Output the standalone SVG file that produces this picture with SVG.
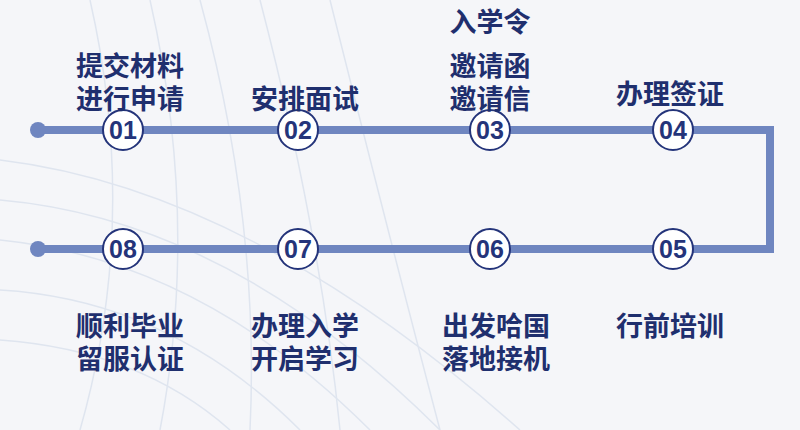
<svg xmlns="http://www.w3.org/2000/svg" width="800" height="430" viewBox="0 0 800 430">
<style>
.t{font-family:"Noto Sans CJK SC","Noto Sans",sans-serif;font-size:27px;font-weight:bold;fill:#1f2f6e;text-anchor:middle}
.n{font-family:"Liberation Sans","Noto Sans",sans-serif;font-size:25px;font-weight:bold;fill:#24347a;text-anchor:middle}
.c{fill:#fff;stroke:#24347a;stroke-width:2}
.g{fill:none;stroke:#dfe5ef;stroke-width:1.5}
</style>
<rect width="800" height="430" fill="#f5f6f9"/>
<g id="bg">
<path class="g" d="M0 160 Q250 190 520 430"/>
<path class="g" d="M0 200 Q230 220 440 430"/>
<path class="g" d="M0 240 Q200 260 370 430"/>
<path class="g" d="M0 290 Q170 300 300 430"/>
<path class="g" d="M0 340 Q140 350 230 430"/>
<path class="g" d="M150 0 Q200 220 160 430"/>
<path class="g" d="M200 0 Q260 220 250 430"/>
<path class="g" d="M260 0 Q320 230 340 430"/>
<path class="g" d="M330 0 Q390 240 440 430"/>
<path class="g" d="M90 0 Q140 220 80 430"/>
</g>
<g id="connectors" fill="none" stroke="#6f86c0" stroke-width="8">
<path d="M38 130 H770 V249 H38"/>
<circle cx="38" cy="130" r="8" fill="#6f86c0" stroke="none"/>
<circle cx="38" cy="249" r="8" fill="#6f86c0" stroke="none"/>
</g>
<g id="n01"><circle class="c" cx="123" cy="130" r="20"/><text class="n" x="123" y="139">01</text><text class="t" x="130" y="76">提交材料<tspan x="130" dy="33">进行申请</tspan></text></g>
<g id="n02"><circle class="c" cx="298" cy="130" r="20"/><text class="n" x="298" y="139">02</text><text class="t" x="305" y="109">安排面试</text></g>
<g id="n03"><circle class="c" cx="490" cy="130" r="20"/><text class="n" x="490" y="139">03</text><text class="t" x="490" y="32">入学令</text><text class="t" x="490" y="76">邀请函<tspan x="490" dy="33">邀请信</tspan></text></g>
<g id="n04"><circle class="c" cx="673" cy="130" r="20"/><text class="n" x="673" y="139">04</text><text class="t" x="670" y="104">办理签证</text></g>
<g id="n05"><circle class="c" cx="673" cy="249" r="20"/><text class="n" x="673" y="258">05</text><text class="t" x="670" y="336">行前培训</text></g>
<g id="n06"><circle class="c" cx="490" cy="249" r="20"/><text class="n" x="490" y="258">06</text><text class="t" x="496" y="336">出发哈国<tspan x="496" dy="33">落地接机</tspan></text></g>
<g id="n07"><circle class="c" cx="298" cy="249" r="20"/><text class="n" x="298" y="258">07</text><text class="t" x="305" y="336">办理入学<tspan x="305" dy="33">开启学习</tspan></text></g>
<g id="n08"><circle class="c" cx="123" cy="249" r="20"/><text class="n" x="123" y="258">08</text><text class="t" x="130" y="336">顺利毕业<tspan x="130" dy="33">留服认证</tspan></text></g>
</svg>
